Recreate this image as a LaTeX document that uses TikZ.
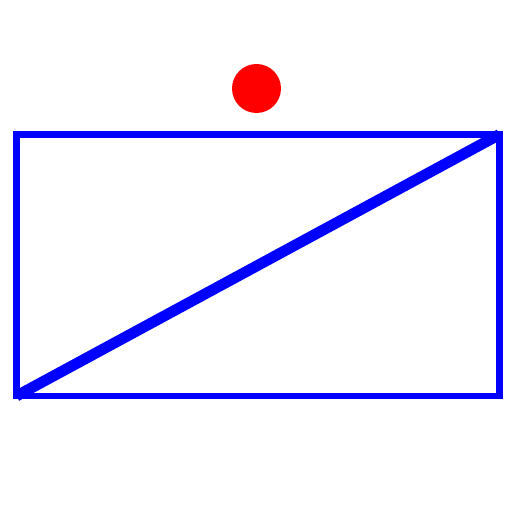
\documentclass[tikz,border=0pt]{standalone}
\usepackage{tikz}
\usetikzlibrary{positioning}
\tikzset{
  marco/.style={
    draw=blue,
    line width=3.7pt,
    minimum width=9.66cm,
    minimum height=5.23cm,
    inner sep=0pt,
    outer sep=0pt
  },
  punto/.style={
    circle,
    fill=red,
    minimum size=.98cm,
    inner sep=0pt
  },
  diagonal/.style={
    blue,
    line width=6.2pt
  }
}
\begin{document}
\begin{tikzpicture}
\useasboundingbox (0,0) rectangle (10.24,10.24);
\node[marco] (caja) at (5.16,4.935) {};
\node[punto] (bola) at (5.13,8.47) {};
\draw[diagonal] (caja.south west) -- (caja.north east);
\end{tikzpicture}
\end{document}
